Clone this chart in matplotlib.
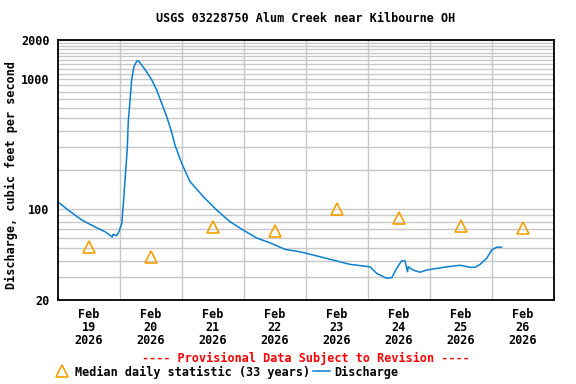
import numpy as np
import matplotlib.pyplot as plt
from matplotlib.lines import Line2D
from matplotlib.ticker import FixedLocator, NullFormatter

# discharge, hours since Feb 19 00:00 and cfs
hours = [0.1, 3.9, 9.2, 14.3, 18.2, 20.1, 21.0, 21.3, 22.7, 23.6, 24.7, 25.2, 26.8, 27.2,
         27.9, 28.5, 29.4, 30.5, 31.1, 32.4, 34.3, 36.3, 38.2, 40.1, 42.1, 44.0,
         45.3, 47.9, 51.1, 56.2, 61.4, 66.6, 71.7, 76.9, 82.1, 87.9, 93.7, 97.5,
         101.4, 106.5, 113.0, 120.8, 123.4, 127.2, 129.2, 131.1, 133.0, 134.3,
         135.3, 135.6, 137.5, 140.1, 142.7, 146.6, 150.5, 155.6, 159.5, 161.4,
         163.4, 166.0, 167.9, 169.8, 171.7]
flow = [113, 98.5, 82.5, 73, 67, 63, 61, 64, 62.5, 67, 78, 104, 289, 470,
        690, 985, 1246, 1378, 1386, 1284, 1140, 985, 825, 655, 514, 390,
        310, 225, 163, 125, 98.5, 80, 69, 60, 55, 49, 47, 45,
        43, 40.6, 37.6, 36, 32, 29.4, 29.7, 35, 40, 40,
        33, 36, 34, 32.7, 34, 35, 36, 37, 35.7, 35.7,
        37.6, 42, 48.5, 51, 51]

# median daily statistic at noon of each day
med_days = ["19", "20", "21", "22", "23", "24", "25", "26"]
med_vals = [51, 43, 73, 68, 100, 86, 74, 71]

blue = "#0a7fd0"
orange = "#f5a000"
plt.rcParams["font.family"] = "DejaVu Sans Mono"
plt.rcParams["font.weight"] = "bold"

fig = plt.figure(figsize=(5.76, 3.84), dpi=100)
ax = fig.add_axes([58/576, 84/384, 496/576, 260/384])

t = np.array(hours) / 24
ax.plot(t, flow, color=blue, lw=1.1)
xm = np.arange(len(med_vals)) + 0.5
ax.plot(xm, med_vals, ls="none", marker="^", ms=8, mfc="none", mec=orange, mew=1.2)

ax.set_yscale("log")
ax.set_ylim(20, 2000)
ax.set_xlim(0, 8)
ax.yaxis.set_major_locator(FixedLocator([20, 100, 1000, 2000]))
ax.yaxis.set_minor_locator(FixedLocator(list(range(30, 100, 10)) + list(range(200, 1000, 100))
                                        + list(range(1100, 2000, 100))))
ax.yaxis.set_major_formatter(plt.FuncFormatter(lambda v, p: f"{v:g}"))
ax.yaxis.set_minor_formatter(NullFormatter())
ax.grid(True, which="both", axis="y", color="#c8c8c8", lw=1)

ax.set_xticks(range(1, 8), minor=True)
ax.grid(True, which="minor", axis="x", color="#c8c8c8", lw=1)
ax.set_xticks(xm)
ax.set_xticklabels([f"Feb\n{d}\n2026" for d in med_days], linespacing=1.0)
ax.tick_params(which="both", length=0, labelsize=8.5, pad=6)
ax.set_axisbelow(True)
for s in ax.spines.values():
    s.set_linewidth(1.3)

ax.set_title("USGS 03228750 Alum Creek near Kilbourne OH", fontsize=8.5, pad=13, fontweight="bold")
ax.set_ylabel("Discharge, cubic feet per second", fontsize=8.5, fontweight="bold")
ax.yaxis.set_label_coords(-0.08, 0.48)

fig.text(306/576, 1 - 358/384, "---- Provisional Data Subject to Revision ----",
         color="red", ha="center", va="center", fontsize=8.5, fontweight="bold")
handles = [Line2D([], [], ls="none", marker="^", ms=8, mfc="none", mec=orange, mew=1.2),
           Line2D([], [], color=blue, lw=1.1)]
fig.legend(handles, ["Median daily statistic (33 years)", "Discharge"], ncol=2,
           loc="center", bbox_to_anchor=(226/576, 1 - 372/384), frameon=False,
           fontsize=8.5, handlelength=1.4, handletextpad=0.4, columnspacing=0.3)

plt.savefig("out.png", dpi=100)
